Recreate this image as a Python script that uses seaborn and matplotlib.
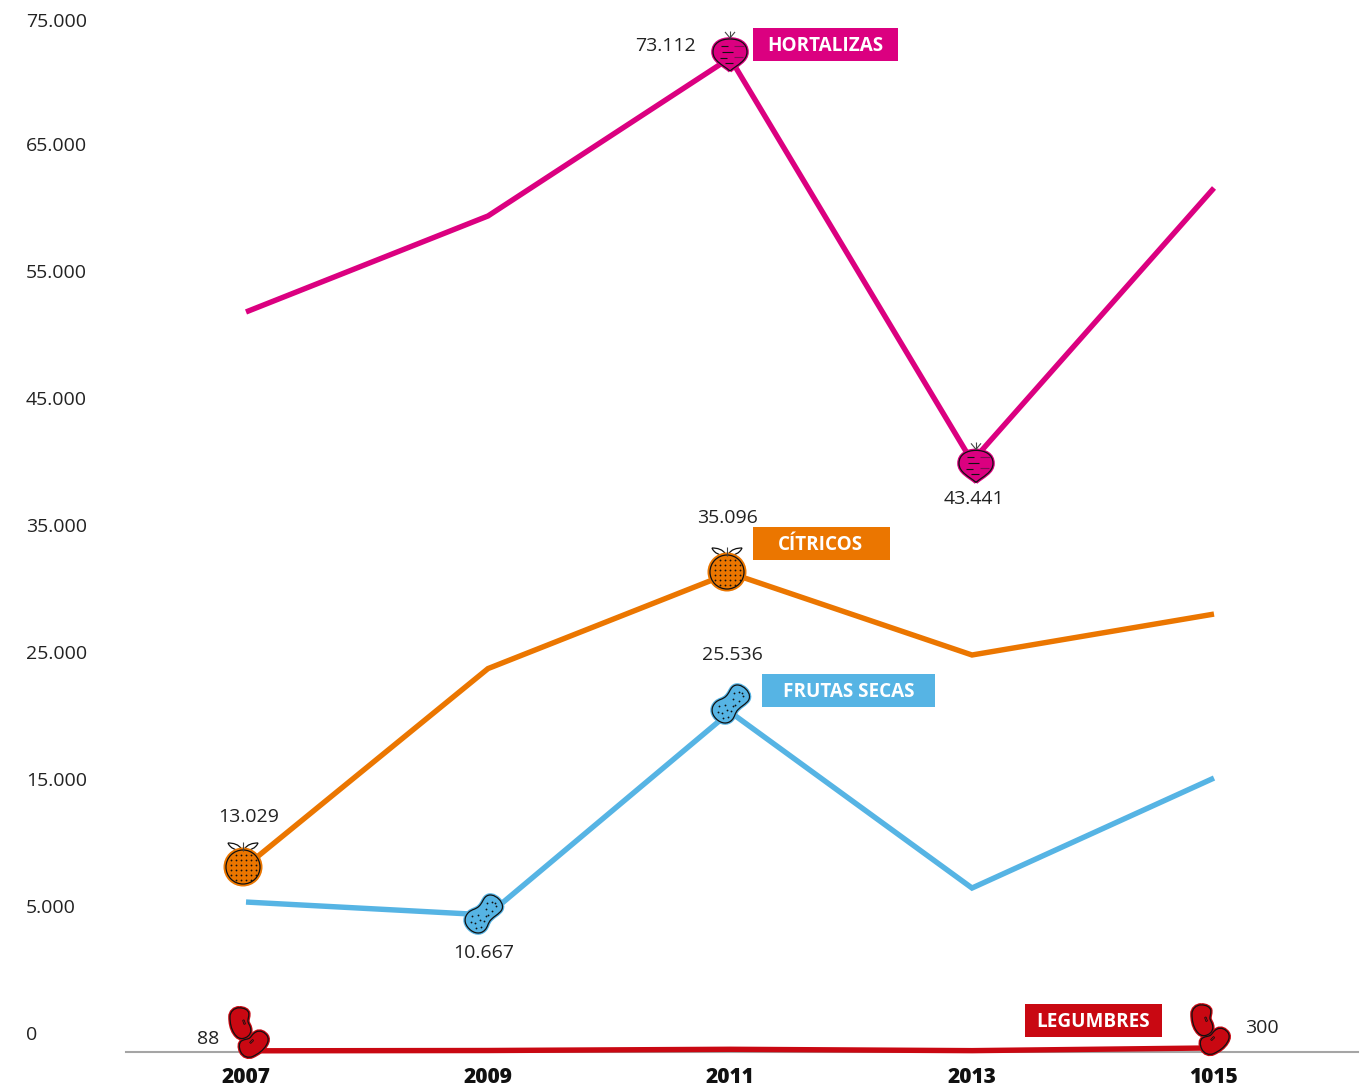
import numpy as np
import pandas as pd
import matplotlib
matplotlib.use("Agg")
import matplotlib.pyplot as plt
import seaborn as sns
from matplotlib.path import Path
from matplotlib.patches import PathPatch, Circle, Rectangle
from matplotlib.transforms import Affine2D

# ---- data ----
years = ["2007", "2009", "2011", "2013", "1015"]
hortalizas = [54430, 61490, 73112, 43441, 63550]
citricos = [13680, 28200, 35230, 29200, 32210]
frutas_secas = [11030, 10080, 25010, 12060, 20150]
legumbres = [88, 110, 200, 100, 300]
series_names = ["HORTALIZAS", "CÍTRICOS", "FRUTAS SECAS", "LEGUMBRES"]
series_colors = ["#DB0080", "#EB7600", "#56B4E4", "#C90812"]
y_tick_labels = ["75.000", "65.000", "55.000", "45.000", "35.000", "25.000", "15.000", "5.000", "0"]
y_tick_pos = [75905, 66784, 57443, 48102, 38761, 29420, 20079, 10738, 1397]

W, H, DPI = 1363, 1091, 100
sns.set_theme(style="white")
plt.rcParams["font.family"] = ["Open Sans", "DejaVu Sans"]
plt.rcParams["lines.solid_capstyle"] = "butt"
plt.rcParams["lines.solid_joinstyle"] = "miter"

fig = plt.figure(figsize=(W / DPI, H / DPI), dpi=DPI, facecolor="white")
ax = fig.add_axes([126 / W, (H - 1052) / H, (1358 - 126) / W, 1052 / H])

df = pd.DataFrame({
    "year": list(range(5)) * 4,
    "value": hortalizas + citricos + frutas_secas + legumbres,
    "serie": sum([[n] * 5 for n in series_names], []),
})
sns.lineplot(data=df, x="year", y="value", hue="serie", palette=dict(zip(series_names, series_colors)),
             hue_order=series_names, sort=False, errorbar=None, legend=False, linewidth=3.9, ax=ax)
for ln in ax.get_lines():
    ln.set_clip_on(False)

ax.set_xlim((126 - 246) / 242, (1358 - 246) / 242)
ax.set_ylim(0, 77375)
ax.set_xlabel("")
ax.set_ylabel("")
ax.set_xticks(range(5), years, fontsize=15, fontweight=800, color="#111111")
ax.set_yticks(y_tick_pos, y_tick_labels, fontsize=14, color="#222222", fontweight=500)
ax.tick_params(axis="x", length=0, pad=11)
ax.tick_params(axis="y", length=0, pad=72)
for t in ax.get_yticklabels():
    t.set_ha("left")
for s in ["top", "left", "right"]:
    ax.spines[s].set_visible(False)
ax.spines["bottom"].set_color("#A5A5A5")
ax.spines["bottom"].set_linewidth(1.5)
ax.spines["bottom"].set_zorder(1)

px = Affine2D().scale(1, -1).translate(0, H)  # pixel coordinates, y down


def at(i, value, dx=0, dy=0, rot=0):
    """Icon-local pixels (y up) -> display, anchored on a data point."""
    x0, y0 = ax.transData.transform((i, value))
    return Affine2D().rotate_deg(rot).translate(x0 + dx, y0 - dy)


def shape(verts, codes, tr, face, halo, z=5):
    p = Path(verts, codes)
    ax.add_patch(PathPatch(p, transform=tr, fc=halo, ec=halo, lw=2.6, zorder=z, clip_on=False))
    ax.add_patch(PathPatch(p, transform=tr, fc=face, ec="#111111", lw=0.9, zorder=z + 0.1, clip_on=False))


def bez(points):
    codes = [Path.MOVETO] + [Path.CURVE4] * (len(points) - 1)
    return points, codes


def strokes(segs, tr, color="#111111", lw=0.8, z=5.3):
    for (a, b) in segs:
        ax.plot([a[0], b[0]], [a[1], b[1]], transform=tr, color=color, lw=lw, zorder=z,
                clip_on=False, scalex=False, scaley=False)


def dots(xs, ys, tr, z=5.3):
    ax.plot(xs, ys, transform=tr, ls="", marker="o", ms=1.3, mew=0, color="#111111",
            zorder=z, clip_on=False, scalex=False, scaley=False)


def beet(i, v, dx, dy):
    c = series_colors[0]
    tr = at(i, v, dx, dy)
    shape(*bez([(0, -18), (-7, -12), (-17, -8), (-17, 1), (-17, 10), (-9, 14), (0, 14),
                (9, 14), (17, 10), (17, 1), (17, -8), (7, -12), (0, -18)]), tr, c, c)
    strokes([((-9, 7), (-2, 7)), ((-8, 1), (3, 1)), ((-10, -5), (-3, -5)), ((-5, -10), (3, -10))], tr)
    strokes([((4, 7), (14, 7)), ((4, -4), (13, -4))], tr, color="#7a1050")
    strokes([((0, 15), (0, 22)), ((0, 15), (-5, 21)), ((0, 15), (5, 21))], tr, color="#444444", lw=0.8)


def orange(i, v, dx, dy):
    c = series_colors[1]
    tr = at(i, v, dx, dy)
    ax.add_patch(Circle((0, 0), 19.5, transform=tr, fc=c, ec="none", zorder=5, clip_on=False))
    ax.add_patch(Circle((0, 0), 17, transform=tr, fc=c, ec="#111111", lw=0.9, zorder=5.1, clip_on=False))
    g = np.arange(-12.5, 13, 5.0)
    xx, yy = np.meshgrid(g, g)
    keep = xx ** 2 + yy ** 2 < 15.5 ** 2
    dots(xx[keep], yy[keep], tr)
    for sgn in (-1, 1):
        shape(*bez([(sgn * 1, 17), (sgn * 4, 23), (sgn * 10, 24), (sgn * 15, 24),
                    (sgn * 13, 19), (sgn * 7, 16), (sgn * 1, 17)]), tr, "white", "white", z=4.8)
    strokes([((0, 16), (0, 25))], tr, color="#444444", lw=0.8)


def peanut(i, v, dx, dy):
    c = series_colors[2]
    tr = at(i, v, dx, dy, rot=45)
    shape(*bez([(-21, 0), (-21, 8), (-16, 12), (-10, 12), (-5, 12), (-3, 9), (2, 9), (7, 9), (9, 11),
                (13, 11), (18, 11), (21, 6), (21, 0), (21, -6), (18, -10), (13, -10), (8, -10), (6, -9),
                (1, -9), (-4, -9), (-6, -12), (-11, -12), (-17, -12), (-21, -7), (-21, 0)]),
          tr, c, c)
    dots([-15, -10, -5, 0, 5, 10, 14, -16, -11, -5, 2, 8, 14, -13, -7, 16],
         [3, 7, 3, -3, 2, 6, 3, -4, -7, -5, -4, -4, -3, 0, -1, 0], tr)


BEAN = [(-0.7, 15), (-6, 15), (-10, 11), (-10, 6), (-10, 0), (-9, -6), (-5.7, -10.7), (-3, -15), (0, -16),
        (2.7, -15.7), (7, -15), (11, -12), (10.8, -7.3), (10.6, -3), (8.5, -1), (8, 1), (7.5, 3), (9, 6),
        (8.8, 9.3), (8.4, 13), (4, 15), (-0.7, 15)]


def bean(i, v, dx, dy, rot):
    c = series_colors[3]
    tr = at(i, v, dx, dy, rot=rot)
    shape(*bez(BEAN), tr, c, c, z=6)
    strokes([((4, 3), (5.5, -1)), ((2.6, 2.4), (4, -1.6)), ((4, 3), (2.6, 2.4)), ((5.5, -1), (4, -1.6))],
            tr, lw=0.6, z=6.3)


# icons anchored on their data points
beet(2, hortalizas[2], 0, -5)
beet(3, hortalizas[3], 4, 3)
orange(0, citricos[0], -3, 1)
orange(2, citricos[2], -3, -1)
peanut(1, frutas_secas[1], -4, -1)
peanut(2, frutas_secas[2], 1, -8)
for i, v, dx in [(0, legumbres[0], -6), (4, legumbres[4], -12)]:
    bean(i, v, dx, -28, 0)
for i, v, dx in [(0, legumbres[0], 8), (4, legumbres[4], 1)]:
    bean(i, v, dx, -6, 115)


def ptext(x, y, s, **kw):
    fig.text(x / W, 1 - y / H, s, ha="center", va="center", **kw)


# value labels
value_labels = [("73.112", 665, 46), ("43.441", 974, 499), ("35.096", 728, 518), ("13.029", 249, 817),
                ("25.536", 732, 655), ("10.667", 484, 953), ("88", 208, 1039), ("300", 1262, 1028)]
for s, x, y in value_labels:
    ptext(x, y, s, fontsize=14, color="#222222", fontweight=500)

# series tags
tags = [(753, 28, 898, 61, 825.5), (753, 527, 890, 560, 820.5), (762, 674, 935, 707, 848.5), (1025, 1004, 1162, 1037, 1093)]
for (x0, y0, x1, y1, xc), name, col in zip(tags, series_names, series_colors):
    fig.patches.append(Rectangle((x0, y0), x1 - x0, y1 - y0, transform=px, fc=col, ec="none", figure=fig))
    ptext(xc, (y0 + y1) / 2 + 1.5, name, fontsize=13.6, color="white", fontweight="bold")

fig.savefig("out.png", dpi=DPI, facecolor="white")
